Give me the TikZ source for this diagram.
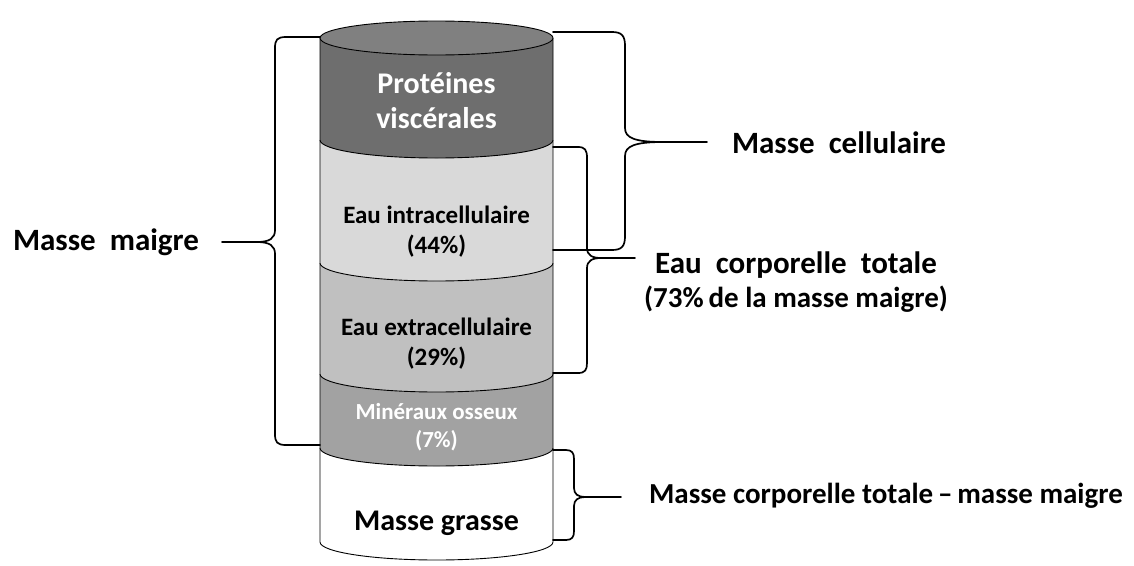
\documentclass[tikz,border=0pt]{standalone}
\usepackage{fontspec}
\setmainfont{Carlito}
\definecolor{topC}{RGB}{128,128,128}
\definecolor{protC}{RGB}{110,110,110}
\definecolor{intraC}{RGB}{217,217,217}
\definecolor{extraC}{RGB}{192,192,192}
\definecolor{minC}{RGB}{162,162,162}
\newcommand\cylseg[3]{%
  \fill[#3] (320,#1) -- (320,#2) arc[start angle=180,end angle=0,x radius=116.5,y radius=18] -- (553,#1) -- cycle;
  \draw[cyl] (320,#1) -- (320,#2) arc[start angle=180,end angle=0,x radius=116.5,y radius=18] -- (553,#1);}
\tikzset{
  cyl/.style={draw=black, line width=0.9pt},
  brace/.style={draw=black, line width=1.7pt, line join=round, line cap=round},
  txt/.style={inner sep=0pt, anchor=base, font=\bfseries\fontsize{#1}{#1}\selectfont},
  txtw/.style={txt=#1, text=white},
}
\begin{document}
\begin{tikzpicture}[x=1pt,y=-1pt]
\useasboundingbox (0,0) rectangle (1134,565);
% cylinder, from bottom to top
\cylseg{448}{542}{white}
\cylseg{374}{448}{minC}
\cylseg{263}{374}{extraC}
\cylseg{140}{263}{intraC}
\cylseg{38}{140}{protC}
\filldraw[cyl, fill=topC] (436.5,38) ellipse [x radius=116.5, y radius=17];
% texts inside
\node[txtw=30] (prot1) at (436.5,93) {Protéines};
\node[txtw=30] (prot2) at (436.5,128) {viscérales};
\node[txt=25] (intra1) at (436.5,223) {Eau intracellulaire};
\node[txt=25] (intra2) at (436.5,253) {(44\%)};
\node[txt=25] (extra1) at (436.5,335) {Eau extracellulaire};
\node[txt=25] (extra2) at (436.5,365) {(29\%)};
\node[txtw=23] (min1) at (436.5,419) {Minéraux osseux};
\node[txtw=23] (min2) at (436.5,447) {(7\%)};
\node[txt=30] (grasse) at (436.5,530) {Masse grasse};
% labels
\node[txt=31] (maigre) at (106,250) {Masse\ \ maigre};
\node[txt=31] (cell) at (839,153) {Masse\ \ cellulaire};
\node[txt=31] (eau1) at (796,273) {Eau\ \ corporelle\ \ totale};
\node[txt=29] (eau2) at (796,307) {(73\%\,de la masse maigre)};
\node[txt=29] (mct) at (886,503) {Masse corporelle totale\,–\,masse maigre};
% braces
\coordinate (tipM) at (257,242); \coordinate (endM) at (222,242);
\draw[brace] (320,37) -- (286,37) .. controls (277,37) and (275,40) .. (275,48) -- (275,230)
  .. controls (275,238) and (270,242) .. (tipM)
  .. controls (270,242) and (275,246) .. (275,254) -- (275,434)
  .. controls (275,442) and (277,445) .. (286,445) -- (320,445);
\draw[brace] (tipM) -- (endM);
\coordinate (tipC) at (663,142); \coordinate (endC) at (707,142);
\draw[brace] (553,32) -- (612,32) .. controls (622,32) and (625,36) .. (625,46) -- (625,128)
  .. controls (625,138) and (635,142) .. (tipC)
  .. controls (635,142) and (625,146) .. (625,156) -- (625,236)
  .. controls (625,246) and (622,250) .. (612,250) -- (553,250);
\draw[brace] (tipC) -- (endC);
\coordinate (tipE) at (601,258); \coordinate (endE) at (635,258);
\draw[brace] (553,147) -- (578,147) .. controls (585,147) and (587,150) .. (587,158) -- (587,248)
  .. controls (587,255) and (592,258) .. (tipE)
  .. controls (592,258) and (587,261) .. (587,268) -- (587,363)
  .. controls (587,370) and (585,373) .. (578,373) -- (553,373);
\draw[brace] (tipE) -- (endE);
\coordinate (tipG) at (585,497); \coordinate (endG) at (621,497);
\draw[brace] (553,450) -- (566,450) .. controls (572,450) and (574,453) .. (574,459) -- (574,488)
  .. controls (574,494) and (578,497) .. (tipG)
  .. controls (578,497) and (574,500) .. (574,506) -- (574,531)
  .. controls (574,537) and (572,540) .. (566,540) -- (553,540);
\draw[brace] (tipG) -- (endG);
\end{tikzpicture}
\end{document}
